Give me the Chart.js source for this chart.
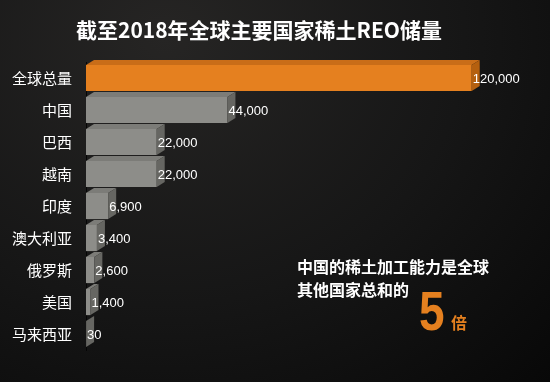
<!DOCTYPE html>
<html>
<head>
<meta charset="utf-8">
<script src="https://cdn.jsdelivr.net/npm/chart.js@4/dist/chart.umd.min.js"></script>
<style>
  html, body { margin: 0; padding: 0; }
  body { width: 550px; height: 382px; background: radial-gradient(ellipse at 30% 10%, #262524 0%, #161616 55%, #080808 100%); }
  #wrap { width: 550px; height: 382px; position: relative; }
</style>
</head>
<body>
<div id="wrap"><canvas id="chart"></canvas></div>
<script>
// 数据
const categories = ['全球总量', '中国', '巴西', '越南', '印度', '澳大利亚', '俄罗斯', '美国', '马来西亚'];
const reserves = [120000, 44000, 22000, 22000, 6900, 3400, 2600, 1400, 30];
const titleText = '截至2018年全球主要国家稀土REO储量';
const noteLines = ['中国的稀土加工能力是全球', '其他国家总和的'];
const noteNumber = '5';
const noteUnit = '倍';

const CJK = '"Noto Sans CJK SC", "Noto Sans", sans-serif';
const ORANGE = '#e5801f';

// 立体柱子：顶面和侧面
const bar3d = {
  id: 'bar3d',
  afterDatasetsDraw(chart) {
    const ctx = chart.ctx;
    const meta = chart.getDatasetMeta(0);
    const dx = 8, dy = 5;
    meta.data.forEach((bar, i) => {
      const { x, y, base, height } = bar.getProps(['x', 'y', 'base', 'height'], true);
      const top = y - height / 2, bottom = y + height / 2;
      const first = i === 0;
      ctx.save();
      // 顶面
      ctx.fillStyle = first ? '#c96d18' : '#7c7c78';
      ctx.beginPath();
      ctx.moveTo(base, top);
      ctx.lineTo(x, top);
      ctx.lineTo(x + dx, top - dy);
      ctx.lineTo(base + dx, top - dy);
      ctx.closePath();
      ctx.fill();
      // 侧面
      ctx.fillStyle = first ? '#b5600f' : '#666662';
      ctx.beginPath();
      ctx.moveTo(x, top);
      ctx.lineTo(x + dx, top - dy);
      ctx.lineTo(x + dx, bottom - dy);
      ctx.lineTo(x, bottom);
      ctx.closePath();
      ctx.fill();
      // 数值
      ctx.fillStyle = '#ffffff';
      ctx.font = '13px "Liberation Sans", Arial, sans-serif';
      ctx.textAlign = 'left';
      ctx.textBaseline = 'middle';
      ctx.fillText(reserves[i].toLocaleString('en-US'), x + 1, y + 1);
      ctx.restore();
    });
  }
};

// 标题和右下角说明文字
const textLayer = {
  id: 'textLayer',
  afterDraw(chart) {
    const ctx = chart.ctx;
    ctx.save();
    ctx.fillStyle = '#ffffff';
    ctx.textBaseline = 'middle';
    ctx.textAlign = 'center';
    ctx.font = 'bold 21px ' + CJK;
    ctx.fillText(titleText, 259, 30);

    ctx.textAlign = 'left';
    ctx.font = 'bold 16px ' + CJK;
    ctx.fillText(noteLines[0], 297, 267);
    ctx.fillText(noteLines[1], 297, 290);

    ctx.fillStyle = ORANGE;
    ctx.textBaseline = 'alphabetic';
    // 窄一点的大数字
    ctx.save();
    ctx.translate(419, 330);
    ctx.scale(0.82, 1);
    ctx.font = 'bold 56px "Liberation Sans", Arial, sans-serif';
    ctx.fillText(noteNumber, 0, 0);
    ctx.restore();
    ctx.font = 'bold 16px ' + CJK;
    ctx.fillText(noteUnit, 451, 329);
    ctx.restore();
  }
};

const ctx = document.getElementById('chart').getContext('2d');
new Chart(ctx, {
  type: 'bar',
  data: {
    labels: categories,
    datasets: [{
      data: reserves,
      backgroundColor: reserves.map((v, i) => i === 0 ? ORANGE : '#8d8d89'),
      borderWidth: 0,
      barPercentage: 0.82,
      categoryPercentage: 1
    }]
  },
  options: {
    indexAxis: 'y',
    responsive: true,
    maintainAspectRatio: false,
    animation: false,
    layout: { padding: { top: 62, right: 14, bottom: 32, left: 0 } },
    plugins: {
      legend: { display: false },
      tooltip: { enabled: false }
    },
    scales: {
      x: {
        display: false,
        min: 0,
        max: 140000
      },
      y: {
        grid: { display: false },
        border: { color: '#050505', width: 1 },
        ticks: {
          color: '#ffffff',
          padding: 6,
          font: { family: CJK, size: 15 }
        },
        afterFit(scale) { scale.width = 86; }
      }
    }
  },
  plugins: [bar3d, textLayer]
});
</script>
</body>
</html>
